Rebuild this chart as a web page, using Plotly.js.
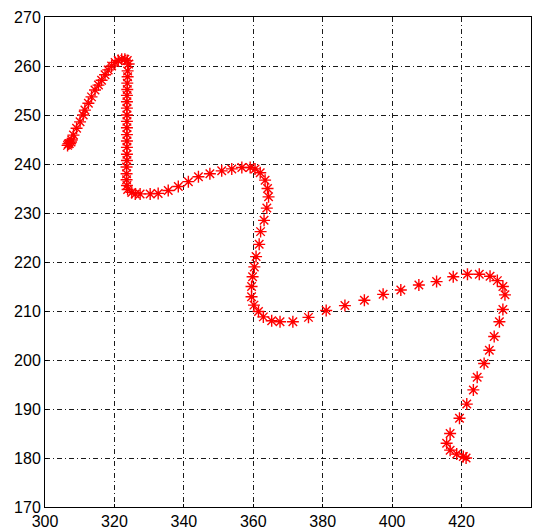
<!DOCTYPE html>
<html>
<head>
<meta charset="utf-8">
<script src="https://cdn.plot.ly/plotly-3.0.1.min.js"></script>
<style>html,body{margin:0;padding:0;background:#fff;}#chart{width:542px;height:531px;}</style>
</head>
<body>
<div id="chart"></div>
<script>
const xValues = [306.5,307,307.5,306.7,307.7,308.2,309.1,310.1,311,311.5,312.5,313.4,314.4,315.4,316.3,317.3,318.2,319.2,320.2,321.1,322.1,323,323.7,324.1,
  323.8,323.8,323.7,323.7,323.6,323.6,323.6,323.6,323.6,323.6,323.6,323.6,323.6,323.6,323.6,323.5,323.5,323.5,323.6,323.8,
  325,326,327.4,330.3,332.6,335.5,338.4,341.3,344.2,347.5,350.9,353.8,356.7,359.1,360.5,362,363.4,364.1,364.4,363.9,363.1,362.1,361.7,360.8,360.3,359.8,359.5,359.5,360.2,361.5,362.9,365.3,367.7,371.4,
  375.9,381,386.4,392,397.4,402.5,407.7,412.8,417.6,421.7,425.1,428.2,430.3,431.9,432.5,431.9,430.9,429.4,428,426.5,424.5,423.4,421.5,419.4,416.7,415.7,416.7,418.6,420.5,421.3];
const yValues = [243.8,244.2,244.5,244.1,244.9,245.9,247.3,248.6,250,251,252.4,253.7,255.1,256.1,257.1,258.2,259.2,260,260.7,261.1,261.4,261.4,261.1,260.4,
  259,257.8,256.5,255.2,254,252.7,251.4,250,248.7,247.4,246,244.7,243.4,242,240.7,239.4,238,236.8,235.6,234.8,
  234.2,233.9,233.9,233.9,234,234.6,235.4,236.4,237.4,238,238.6,239,239.3,239.3,239,238.2,236.7,235,233.3,231,228.5,226.2,223.6,221.1,219,217,215,212.9,211.2,209.9,208.8,208,207.8,207.8,
  208.7,210.1,211.1,212.2,213.4,214.3,215.3,216,217,217.5,217.5,217.1,216.2,215,213.3,210.3,207.8,204.8,202,199.3,196.5,193.9,191,188.1,185,183,181.6,180.8,180.3,180];
const xTicks = [300,320,340,360,380,400,420,440];
const yTicks = [170,180,190,200,210,220,230,240,250,260,270];

const gridStyle = {color:'#1a1a1a', width:1, dash:'5px,3px,1px,3px'};
const axisCommon = {
  showgrid:true, gridcolor:gridStyle.color, gridwidth:gridStyle.width, griddash:gridStyle.dash,
  zeroline:false, showline:true, linecolor:'#000', linewidth:1, mirror:true,
  ticks:'inside', ticklen:3, tickcolor:'#000',
  tickfont:{family:'"Liberation Sans Narrow","Liberation Sans",Arial,sans-serif', size:16, color:'#000'}
};
const data = [{
  x:xValues, y:yValues, type:'scatter', mode:'markers',
  marker:{symbol:'asterisk-open', size:10, color:'#ff0000', line:{color:'#ff0000', width:1.4}}
}];
const layout = {
  width:542, height:531,
  margin:{l:45, r:11, t:17, b:24, pad:0},
  paper_bgcolor:'#fff', plot_bgcolor:'#fff', showlegend:false,
  xaxis:Object.assign({}, axisCommon, {range:[300,440], tickvals:xTicks, ticktext:xTicks.map(String)}),
  yaxis:Object.assign({}, axisCommon, {range:[170,270], tickvals:yTicks, ticktext:yTicks.map(String)})
};
Plotly.newPlot('chart', data, layout, {displayModeBar:false, staticPlot:true});
</script>
</body>
</html>
